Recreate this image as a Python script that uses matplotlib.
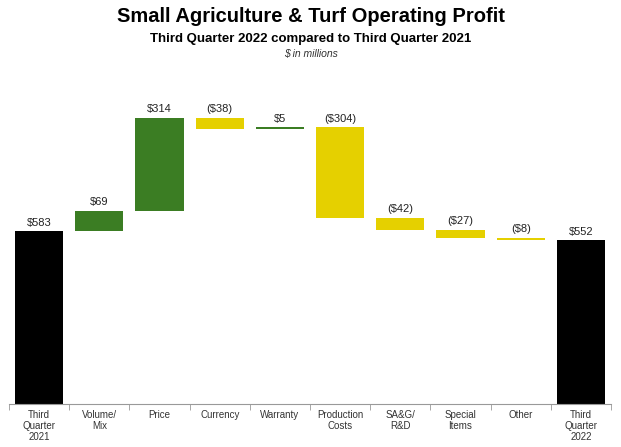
import matplotlib
matplotlib.use("Agg")
import matplotlib.pyplot as plt
import numpy as np

categories = ["Third\nQuarter\n2021", "Volume/\nMix", "Price", "Currency", "Warranty",
              "Production\nCosts", "SA&G/\nR&D", "Special\nItems", "Other", "Third\nQuarter\n2022"]
values = [583, 69, 314, -38, 5, -304, -42, -27, -8, 552]
labels = ["$583", "$69", "$314", "($38)", "$5", "($304)", "($42)", "($27)", "($8)", "$552"]

GREEN = "#3b7d23"
YELLOW = "#e5d000"
BLACK = "#000000"

plt.rcParams['font.family'] = ['Liberation Sans', 'DejaVu Sans']

fig = plt.figure(figsize=(6.21, 4.47), dpi=100)
ax = fig.add_axes([9/621, 1 - 404/447, (611-9)/621, (404-78)/447])

x = np.arange(len(categories))
bottoms, heights, colors = [], [], []
running = 0
for i, v in enumerate(values):
    if i == 0 or i == len(values) - 1:
        bottoms.append(0); heights.append(v); colors.append(BLACK)
        running = v
    else:
        if v >= 0:
            bottoms.append(running); heights.append(v); colors.append(GREEN)
        else:
            bottoms.append(running + v); heights.append(-v); colors.append(YELLOW)
        running += v

ax.bar(x, heights, bottom=bottoms, color=colors, width=0.8)
for i in range(len(x)):
    top = bottoms[i] + heights[i]
    ax.text(x[i], top + 12, labels[i], ha="center", va="bottom", fontsize=8, color="#222222")

ax.set_xlim(-0.5, len(x) - 0.5)
ax.set_ylim(0, 1100)
for s in ["top", "right", "left"]:
    ax.spines[s].set_visible(False)
ax.spines["bottom"].set_color("#999999")
ax.set_yticks([])
ax.set_xticks(x)
ax.set_xticklabels(categories, fontsize=7, color="#333333", linespacing=1.15)
ax.tick_params(axis="x", length=0, pad=4)
ax.set_xticks(np.arange(len(x) + 1) - 0.5, minor=True)
ax.tick_params(axis="x", which="minor", length=4, color="#999999")

fig.text(0.5, 1 - 17/447, "Small Agriculture & Turf Operating Profit", ha="center", va="center",
         fontsize=14.5, fontweight="bold")
fig.text(0.5, 1 - 39/447, "Third Quarter 2022 compared to Third Quarter 2021", ha="center", va="center",
         fontsize=9.5, fontweight="bold")
fig.text(0.5, 1 - 54/447, "$ in millions", ha="center", va="center", fontsize=7.5, style="italic",
         color="#333333")

fig.savefig("out.png", dpi=100)
